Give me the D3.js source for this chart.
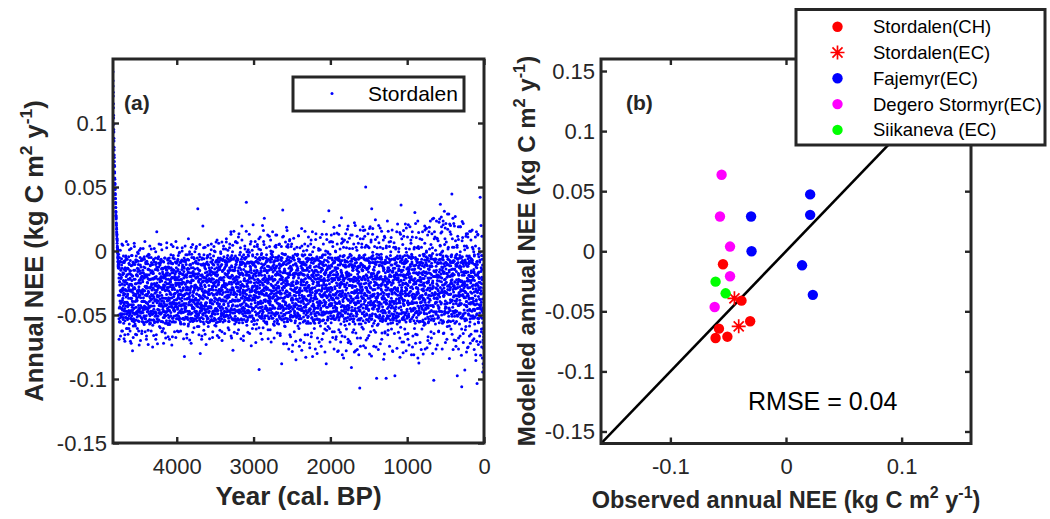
<!DOCTYPE html>
<html><head><meta charset="utf-8">
<script src="https://cdn.jsdelivr.net/npm/d3@7"></script>
<style>body{margin:0;background:#fff}svg{display:block}</style>
</head><body><svg id="c" width="1050" height="519"></svg>
<script>
// ---------------- DATA: panel (a) ----------------
// Spike at the start of the record, one value per year from 4830 cal. BP
const spikeStartYear = 4830;
const spikeValues = [0.140,0.133,0.129,0.124,0.121,0.115,0.112,0.106,0.104,0.099,
 0.095,0.093,0.088,0.086,0.081,0.079,0.075,0.073,0.070,0.067,
 0.066,0.062,0.061,0.057,0.056,0.053,0.052,0.049,0.048,0.045,
 0.044,0.041,0.041,0.038,0.037,0.034,0.034,0.031,0.030,0.028,
 0.027,0.025,0.026,0.022,0.021,0.020,0.017,0.018,0.015,0.014,
 0.012,0.013,0.010,0.009,0.006,0.008,0.004,0.003,0.001,0.002,
 -0.002,-0.001,-0.005,-0.004,-0.008,-0.006,-0.011,-0.009,-0.013,-0.012];
// Remaining annual record in two interleaved sets (even years from 4760, odd years from 4759),
// one value every 2 years, one 200-year block per string.
// Each value = coarse character (code 35 -> origin, step 0.002) + fine digit (step 0.0005), kg C m-2 y-1
const evenStartYear = 4760, oddStartYear = 4759, bodyStepYears = 2, blockYears = 200;
const codeBase = 35, codeOrigin = -0.117, codeStep = 0.002, fineStep = 0.0005;
const evenBlocks = [
"]ZXUBSWQ@KFYNA:HTDLRCVI^GPE>MJOXB[KSF9HUDQ<AWLNTGZIR_EM?CPYJHKB;VFOSDXLA]NGT=QEUCMI8WPJBRZFS6HKDY@NA",
"TGA`OJDWMQE?KXBPZHS;IRCNU[LFAYVD>MGQJ]EKBTOW9HLSCXNF<RIAZPGUD^JKEVBM@QYLHS=OCTFWAIN:GRJ[DPKXEU7MBQHZ",
"SOFBJVMA?WHRDZ]KPEIULCX6TNGQBY;FJOWAMSKDVHE[RPI<CNdUGBL@ZTQFMJXDA^OKHSEWI>PYNBRCGUL]JVF=MTAQKD9XHOSB",
"NYEQJAWG:RDKUBT_HPLISFZC<MXOVAJGRE?NQKYDHB[WLITP8FUMCXOZ]ASGEK@VJDRNHQLYBF;PTIWCOAG^SMXEKUZD>JRNHB[L",
"PWFKA=SHYCMREUI]OBXGJTDNQ?LVZA3HSEKGPWB[FYCOMR:JUDIXNALTbQGEVHZK9SPBMWCDOJ^RFNYIUAEL<XGTQKHSB@ZMPD]J",
"WEOAKYGR_NHDTQBVIlMFXCSJ?PZLAUG[E4NRKWDHOB;YITFMQCfSJAXP=ZGLEVRN]DKHUBQ9WMICYOFTJA[SL>GXEPNRDK@VZBHU",
"MYFSQ^BKWIGTO:ZEDLXRAU]PNCHV?J[SBQMK`FYEWLRG<ITADOZPH_UNXCJQK>VEYMS[BFRGAWa9LOTDIXUN^PHZCQEJ=KSYBM]V",
"XHPaCWNZEKTBR]LGYUAO=JSFV^DQIMZCXdKPH;WERNU[BG5OYLAIcTMSF?JVQDZH`XKE@PWBNR_GLYCUJO>TSbAIFZMEVK]QHX9D",
"SYBGe[OJWALTRD:NUXHFZQI^MKVCEPYBGpSAO]TLJWH<DRFZNXUKc[EQIMB_VPTGY8LSAHO]DXZJRfCNWE?KUQBIMTGaLZFSY=HP",
"AKWTO^DYRHLGZU]E-BQNIXSbCPJ;FVMAT[KWYDgHOR>ENZBQ`LhUSJGXCI@FPVYK]MARDTWNcOE9LZHQBJSU_FXG=IKaYPC[RMVA",
"ZFQHeWBSOJXNDU:KAYG]PITCV^RMELWbHZ?QBJYSFOXA[NKDU_GTR<ELVCIZM]P0WHYBQalSJFO[XEKUAN>DTZRG`ICYLVM8QPdH",
"TJBY]OEQS7HXRKaFMZACV;NDWGUI^PLQ5ZBTYEJOSbHRK=XFMCA[WGNV3DPIUQ_ZLJEOT?BYcRHSFK8XMD]NAWG:QVCPIe6LZUJT",
"ROH[YBVF9SKEQ`ZLAXNI4DWMGT]JPCUY<RBOHaSEQFZK[N7XLVIA^DMJW=TGCPYd2ROSHBUEK]ZFXQ?NAL6VJGbMTWYD[IPC;SRO",
"EZT]HNW8QBKYAG^XSLFR7MPIUDc[OJVCZ<EWBQhKTNYH=LRGA]XSO1PFDaMIUJW[C@ZBREkQGYN_VL9THOSKDAbXFPMZR>IJ]CWG",
"QBXe6RLYHDWNA]KTGZ;JOUFcSIM4VCYQ[PE>HXBgRDL^ZNW9AKTGjSUO<FJCMIY`VE2QRBZHaXLP?DWNAKT5G]SOUFJdYCR:MEIV",
"HSZNb8AQWDGXOJTK[.EYRLcMV<FUBIPZ^CQH4WSNAEfYOK=GXJDTR]M6LVBUIQ`ZH3SCFPW(NEYa;OKGBXJR_T?LDMVUgASe7HZQ",
"KOWDa[QJX7vEHS^BZNLCUG:RMbIYTFPA]WV5XKDeQO<HJ`ZSGmBRY?CLd[NEIWT8UFKQ]AMXGh=PSVODJ+ZYRc@BLHNF6KUE_TWI",
"SCYRf9XHNME[LZAO=VJBGW^QDKT3UPIFbXNE<RSYMCH+]JWLZAQgOTVD>KBGUE`YR6NIXPHZa[SFMJ?CLWeKQA4TDOVB_YGIN;RU",
"+XQFJ]YCTMGNeSW@BLZKDPR<HU^EIAVOc2[YJXGQnTFSNK9MWBL_ZCRHd:EUPIYA?DXOgKSQ]6WJMNBFTZaHV=LGRECY8[UPIOfW",
"AXMQ`GSE5ZNWHd[KC;RYJUO3BFT^VLlIQDZ8XPGaMESYK<BWRhHN]CUJ0FATOZVb9QLIGDYPX_SN=EKWcRBH4MJUZFQ[AOeTI7VC",
"SKGYf]XDP6ZWNbJQ;EURAHeLT[I9MVOgCYS<BZFXWdKN]P4QGJRDi+UL`ASYEbMZ?HTOXCVhI[KQ7JWNFaLSB=GYRDPjXUE_oZMA",
"HYiQCWdN5TO]ZBgXLAS<JUkVMEaRG8FDhY[PKWTQI?ZNfCSX]LBjOEU3VMHeRYgAK=QZTDWsPIb_FSN6XGLhJ:YCOUQA[iEMV9KZ",
"TBXEJ]+WNaZOGe7QSKDRUYI[;HCfLMVXP3A(PQgZKbNDW=TEJSYR_GO.OUCXLM?aHI4BZFQW]dNSV6KEPJGTY<XcRAD8ZMO`UHIQ",
"SLWdCY9KR]NEJ[UB5ZQFXH=GaOV2MTIeP:D(YWLAbSZ8KCNQ^GRF<XOqJH4EUfM>Z6VPB3I,AD0?L9<.8"
];
const evenFine = [
"3917460285720394816558290361740462871935813509274626904173584758201693904167582315863249076327950148",
"8042193576156823094749307861522716049385938461502706573829146201957438587342016931490682757295831604",
"5163708294928456107307183496256347925180182940635745901738628035692417247681503976140385923908257146",
"2739410568605187239484260937511385764920594720813606125394879370186245419832567068230479157504691283",
"4806357129317592840692641805375038612974741209635889573412602693785014132046978505817326496749250813",
"9358027416042963185728714590637146380592360591472851932768401740852369806214793549156830272386709154",
"6174293805853704691250938172649621574038047826139538069251477259430681138506947269471825304012738956",
"1825649370296318504776104928354380957216814936705265972038143068512479925174860307341965285486021397",
"7530916482418927536034560289178072643159291758063410483962755683127049039285471668753019429164732805",
"0297384516672051983418742609533906817425526394170897410253688015763294243869015745091286737382564019",
"8461025937503867421996173485202754901386438026917571258360940936417258684195270335927806411279453860",
"3704862951189625047364821375909053716824721954803625683901474307621985862407351951709843260945318762",
"9582170634346189502702476831595739024816802541396761937582042874960531140823679573506194824617502938",
"2016495873724803915653917642081685392047394685071208521674396719304582956728314041835270968330649271",
"6947531208037269814581564029374809135762257168940353240719861695847320703821654992463750183812940657",
"1358297640964710385225398714066290458317086431279579136405284721589063308675219451720938468405126379",
"5720946183281573049670642983513479615028918207356446058293170831467295625734098113985027469046187532",
"0684215397459186273038250471697152936084506371824919784026538240691375271935640864370295183506814927",
"7293058146810634792519475620830578219634682910437534517860299516023748406289715327854136905831670942",
"4135782609697402351830681594722815460397947263180502968571345781390246164072895383095742617523946180",
"8869201457132758496046019372855946082713218374605967503198243412865097058419736292316504787095423816",
"3572614098524198037691863452077610258439045709318218394276506024781593839510672447618329052108579643",
"6014387259295816473087035294161467920385439261507808267431955149038267327159684075802149639632870514",
"948713602537092586411256849370603147258987943051264518962037264078195379256143085"
];
const oddBlocks = [
"KDWR;GYAPNHT]EBXQLIFZ<OCVMJS^UAGRK?YDNWHPE9LXTBQ[CJFZ=MOSIVAGU_RHDKY>NBWLQETPX:JCM]FSZAHO@IVDRNY;GKB",
"XQBF]NLTAHO=DWJGZSEKYIC?RMUPB[VHKNA8LFTQGZDO^JWEXCRS<IBMYKPNLFAU@HQDZGTE`VOJCRXWKB;NIYSMAFPHQ>DUZLGE",
"ZIPA^CKVRGENS=BXOHLDWQF@JUMTYAKCG]ROBIPNDZX:EWSLHVQAMJ9TFCYKO[BUNGE>RIPLWDXH_SZCFJQ<AMKTVEGYB?ORNDIU",
"CHOY=LPWBETFRK]ASNDGXJV@ZQIMCUEY9BHLTOKPRDNW^GFASJM;XIUCQZEVOBKHY>LDRTFASP_NGWJQIXC<MUEZOBKLDVR[HTNA",
"UDMJ?XAKRFGPZHE]WOSBLNCY:QTIVDAJXK^FEGRMHWBS=ONZPCQULT@DAYIGKFE[VRJMXNSOB8HWPZQCDIG`ATUKLEYJ>FRNMVOH",
"NBTQ]EIXFKALOY?DGSWHVPCZ<JRMUB^EFKNAQIOTGXD;HLYWSPCJBM]RZAVEKOUF=NTGIQXHDL@SPYBJZRC_WAMKEONVG9TFQHIU",
"YCIG^QNWBREAMX<HSPLZKVTD]FOJUCBGYRI?NAQWSL`EHZDXMTJOCP;FKVGAUNRYB[IWQEHMDZ=LSTOXFAKJ^CGRPVBNUE@YIDLS",
"PGaXKDRWNCJZEU?LHBQSAYO]TMFVIKDRc<GXWPZBNHSJ^EAQULYOFK=IDTCWM_BGRXVPNSZKE;HAJQYDObLUFT@CIWRMGX]PNEVA",
"IWSB`HPYDLTKNF:ZCRAOQGEX^VMJUBHYdSLW?PDKANCRZ]FOGIXTJQ<BEVYMKUPaHDSLNWCG=OZFRXAJEBTIY_QMHVPDKU9SNCLO",
"VCNZ^AKRGXPEWTb?LJHYQOMFD]BUISZXKCA;GPENRLYWe`VTHOJBDQ@SIMFUNGZK[XAEYCTPHR>OWLDBSVaMJQFGIKXE]U8NCZOR",
"DSLJ]YFQNAKGWC?ORUEXBHZPc^IMTVNAEYS=LKGDQJRO_FXBWUIMC;HTPZSKEYGAQ[NRDLJVFXb9OWCBHUTMK?SZPIRGNDe]LYAQ",
"MBQZ`KWOGEUDHYSa<LRCFNTX]AJPIVOKBG8EZQWSYLCMR^DHFTNUAJ:XIPKBGSWO[EZVQLDRbHY=CMTJKAFN9UXSIOPEGW_VLQZD",
"TIXA]PHCKSBOWUd;NFRGEZJMQ?YLDVHSCX^KBANPOTRW7FGIUELQZJa<DMYCVNKS]HOBXRPFAGT>WEIJUDZL`QSCMKYRO5HNBXGF",
"GQPW]LACNIFZUHb@ERSXKTDMY;OJBVRAXG^LWPIQCNFE6SZUKHOJDVc=MYTBLGRA[QXNEWSIKP?HFZDUMBYO`JCRVGTENXa:LQAS",
"UPJDc>AXNRHZSG]9LWEQKBFY^OMCTIV6RQdAJZHPNXGL<ESWBUOK_FDYa3MTCRIQZ]HVPJGAEN;XWLSbDMUK?YFBORT`HZCe8QIW",
"SGNA]WKDZQRPc7HXELBYFJUO^TMIVCAQ=SKZgDNWGXH5LRP_EBYMICa:UTOFJKVS[QD@ZNWBERd6HLXAPGMY`OQCJTIUFb>KSZRD",
"ZCLHe]PWANKQ9OGDYTSJXFBU^MRIEV<ZNAfLWCQHGKPO_SB4YDTJXEc]RMIUFLAZ=NVHGSQYDaWKO8BPCRJT^EIXUML?HNg[ZFAQ",
"WHDQ]BYOKSNGZd;IXRCLFEPU`AVJTMH3KYb=SQDWBNOG^ZLIRXCFT<AMeJUPQYKE]HSDVGZB?RWaNOLIXTFJ6CUQMHAGDS_YRKEZ",
"MRXB^KGDSYJAE7PQZhNLVCTU]FOIWHBY:GSLd?RKQEMN`ZDXAPOJU4ITCbFGWHRS[LYK=NDZAQe]MVEBPXGJ9OTfICULRH^KSYAW",
"GNQS`RDYBJZXTa8HMLKEFPWC]OI=UVRGAJf;YQDNSBHK^EXZO2MTLWc]UFPCIQYD@AGVRJN6HKZbSEXOTWBL[FPM?QDUCY_eIARG",
"KFWTd]NYHSQPZB9GMAOCJUXEf^RLVIGSDK`YN:TZWBHQh[PCOMFXAR=JUeILZYSG]KD5VNEHOTb`QWBPRCMJ>XFgAULKZI^NSYDc",
"TWHf]QMKEAUBZSg=OJXNDLR^GPCeIYQKVF`WTM9HSAjNZ]BOXDCGRU?LfYKPEIMWd[QHTZJB<OSXVhFANKYD]PRgCUMIQL`EZ7WG",
"HRZC^NXDPYKWTb;SFLEJAOIVe]QMBUGZHS?XC`RNYKDPf8LWTOEJAQ]MBZ=IUVCSd^GHXKNR6FLaYQODZTWJ[@EPMBIGSCc<KUXR",
"YEOS]KWHDNQBGU;TMZFAXCJR^L5PVIODYW=HEKSbGNT@AQZUMRJCXF]8LBOHKWI>PSaYDEVGQ:Z<7NM?"
];
const oddFine = [
"5274018369813065792429683415707405923186185379640260194852373742160958958603271403615782494897213650",
"2615943807704982653135817024969126438075046825137958930147628230679154175439062869071258434372869510",
"8390651724168524709357029183462946370518731408269508571934624129756830657380421990384615273261549708",
"6047285193392671458081530694275781432906269084731594325187601875603942731498602505692371844208175369",
"1753940628620837195494125860370387624195456109387227951304867039862514384620795156204183798164759203",
"4928615307531740826917603928458253946170309518742663417520989582064713207683914578135206940439276851",
"7461052983059283741668342195073018756249927650413816053892745247196380895142063743906875122783914065",
"3106479825874326059142978510366581093274503271864979263458010814579362365908214714782369509265704318",
"9582730146241698507370391645281854276390672084193530875926144651308729519364708283260154970749382651",
"0839561274497012365825168473098275903461136425879095027168436138470925748139205630951647825627809143",
"6274198350315860249798413750264703926185259048176384160592371327864509096251387476502489313085791642",
"2495037618762084319503769524815189376240894361507240581273966721489305386729051491347058261506238479",
"8713264905106457983252380917649327648150465192038727893056410495187236693245107831078645297842603915",
"5061392784948731602537258046190614923857739205814618504673928206795413456312897029715403686318072495",
"3928507461635218407916079435288245069173508371269497612358404139680725287645130975940231860413897652",
"7180654293283971054660942817354571836902932654701804179632855862039471124579863036081259478951402367",
"1647389025507124693889265301742389157406645087329137984026159012685743753491608242613795080815243796",
"4309816572874509321621587643906901342857182765903454630817293674925108029647158395802134676132758940",
"9826473150351298604774031596281769540382403592687182470135966981372405513860724926908457133054197862",
"0571238649629804731548365719023017985264865932410721437605987305849216946210873517285934605984632071",
"6385921407143765829090623148755784093612241086753979561420830128375964367129485085490367214293751086",
"2754086931806931572435187296400926473185638215049740715983625693024718184736290572358091469410637528",
"8196743025483026951702578143697349052681361497825065824310792908165734947138650250632178941725940386",
"54328076199675142830138967025462105389470847295163395608471270243195868163752409"
];
const yearDomainA = [4830, 0];
const neeDomainA = [-0.15, 0.15];
const xTicksA = [4000, 3000, 2000, 1000, 0];
const xTickLabelsA = ["4000", "3000", "2000", "1000", "0"];
const yTicksA = [-0.15, -0.1, -0.05, 0, 0.05, 0.1];
const yTickLabelsA = ["-0.15", "-0.1", "-0.05", "0", "0.05", "0.1"];
const seriesNameA = "Stordalen";

// ---------------- DATA: panel (b) ----------------
const siteNames = ["Stordalen(CH)", "Stordalen(EC)", "Fajemyr(EC)", "Degero Stormyr(EC)", "Siikaneva (EC)"];
const obsStordalenCH = [-0.0545, -0.0385, -0.031, -0.058, -0.0609, -0.0507];
const modStordalenCH = [-0.0108, -0.0411, -0.0583, -0.0644, -0.0722, -0.0711];
const obsStordalenEC = [-0.0446, -0.0409];
const modStordalenEC = [-0.0392, -0.0625];
const obsFajemyr = [-0.0302, -0.0298, 0.0209, 0.0209, 0.0139, 0.0232];
const modFajemyr = [0.0289, 0.0, 0.0473, 0.0303, -0.0117, -0.0363];
const obsDegero = [-0.0557, -0.0571, -0.0484, -0.0484, -0.0617];
const modDegero = [0.0637, 0.0289, 0.0039, -0.0208, -0.0464];
const obsSiikaneva = [-0.0609, -0.0522];
const modSiikaneva = [-0.0253, -0.035];
const domainB = [-0.16, 0.16];
const xTicksB = [-0.1, 0, 0.1];
const xTickLabelsB = ["-0.1", "0", "0.1"];
const yTicksB = [-0.15, -0.1, -0.05, 0, 0.05, 0.1, 0.15];
const yTickLabelsB = ["-0.15", "-0.1", "-0.05", "0", "0.05", "0.1", "0.15"];
const rmseText = "RMSE = 0.04";

// ---------------- STYLE ----------------
const FONT = '"Liberation Sans", Arial, Helvetica, sans-serif';
const AX = "#262626";
const siteColors = ["#ff0000", "#ff0000", "#0000ff", "#ff00ff", "#00ff00"];
const siteMarkers = ["circle", "star", "circle", "circle", "circle"];

// ---------------- BUILD SERIES ----------------
const seriesA = [];
spikeValues.forEach((v, i) => seriesA.push({year: spikeStartYear - i, nee: v}));
function addBlocks(blocks, fines, startYear) {
  blocks.forEach((blk, k) => {
    const fine = fines[k] || "";
    for (let j = 0; j < blk.length; j++) {
      const yr = startYear - blockYears * k - bodyStepYears * j;
      if (yr < 0) continue;
      const f = j < fine.length ? +fine[j] : 0;
      seriesA.push({year: yr, nee: codeOrigin + (blk.charCodeAt(j) - codeBase) * codeStep + f * fineStep});
    }
  });
}
addBlocks(evenBlocks, evenFine, evenStartYear);
addBlocks(oddBlocks, oddFine, oddStartYear);
const siteObs = [obsStordalenCH, obsStordalenEC, obsFajemyr, obsDegero, obsSiikaneva];
const siteMod = [modStordalenCH, modStordalenEC, modFajemyr, modDegero, modSiikaneva];

const svg = d3.select("#c");
svg.append("rect").attr("width", 1050).attr("height", 519).attr("fill", "#fff");

function starPath(s) {
  const d = s * 0.72;
  return `M${-s},0L${s},0M0,${-s}L0,${s}M${-d},${-d}L${d},${d}M${-d},${d}L${d},${-d}`;
}
function drawMarker(g, type, color, cx, cy) {
  if (type === "star") {
    g.append("path").attr("d", starPath(7)).attr("transform", `translate(${cx},${cy})`)
      .attr("stroke", color).attr("stroke-width", 1.7).attr("fill", "none");
  } else {
    g.append("circle").attr("cx", cx).attr("cy", cy).attr("r", 5.2).attr("fill", color);
  }
}
function richText(g, x, y, parts, size, rotate, anchor) {
  const t = g.append("text").attr("font-family", FONT).attr("font-weight", "bold")
    .attr("font-size", size).attr("fill", AX).attr("text-anchor", anchor || "middle")
    .attr("transform", `translate(${x},${y})` + (rotate ? " rotate(-90)" : ""));
  let up = false;
  parts.forEach(p => {
    const ts = t.append("tspan").text(p.t);
    if (p.sup && !up) { ts.attr("dy", -size * 0.42).attr("font-size", size * 0.68); up = true; }
    else if (p.sup) { ts.attr("font-size", size * 0.68); }
    else if (up) { ts.attr("dy", size * 0.42); up = false; }
  });
  return t;
}
function styleAxis(sel, fs) {
  sel.select(".domain").remove();
  sel.selectAll(".tick line").attr("stroke", AX).attr("stroke-width", 2.4);
  sel.selectAll(".tick text").attr("font-family", FONT).attr("font-size", fs).attr("fill", AX);
}
function frame(g, x, y, box, xt, xl, yt, yl) {
  const fs = 22;
  g.append("g").attr("transform", `translate(0,${box.b})`)
    .call(d3.axisBottom(x).tickValues(xt).tickFormat((d, i) => xl[i]).tickSize(-6).tickPadding(15))
    .call(s => styleAxis(s, fs));
  g.append("g").attr("transform", `translate(0,${box.t})`)
    .call(d3.axisTop(x).tickValues(xt).tickFormat("").tickSize(-6))
    .call(s => styleAxis(s, fs));
  g.append("g").attr("transform", `translate(${box.l},0)`)
    .call(d3.axisLeft(y).tickValues(yt).tickFormat((d, i) => yl[i]).tickSize(-6).tickPadding(6))
    .call(s => styleAxis(s, fs));
  g.append("g").attr("transform", `translate(${box.r},0)`)
    .call(d3.axisRight(y).tickValues(yt).tickFormat("").tickSize(-6))
    .call(s => styleAxis(s, fs));
  g.append("rect").attr("x", box.l).attr("y", box.t).attr("width", box.r - box.l).attr("height", box.b - box.t)
    .attr("fill", "none").attr("stroke", AX).attr("stroke-width", 3);
}

// ---------------- PANEL (a) ----------------
const boxA = {l: 113, r: 484, t: 59, b: 443};
const xA = d3.scaleLinear().domain(yearDomainA).range([boxA.l, boxA.r]);
const yA = d3.scaleLinear().domain(neeDomainA).range([boxA.b, boxA.t]);
const gA = svg.append("g");
gA.append("clipPath").attr("id", "clipA").append("rect")
  .attr("x", boxA.l).attr("y", boxA.t).attr("width", boxA.r - boxA.l).attr("height", boxA.b - boxA.t);
gA.append("g").attr("clip-path", "url(#clipA)").selectAll("circle").data(seriesA).join("circle")
  .attr("cx", d => xA(d.year)).attr("cy", d => yA(d.nee)).attr("r", 1.5).attr("fill", "#0000ff");
frame(gA, xA, yA, boxA, xTicksA, xTickLabelsA, yTicksA, yTickLabelsA);
gA.append("text").attr("x", 124).attr("y", 110).attr("font-family", FONT).attr("font-weight", "bold")
  .attr("font-size", 21).attr("fill", AX).text("(a)");
// legend (a)
gA.append("rect").attr("x", 293).attr("y", 77).attr("width", 171).attr("height", 34)
  .attr("fill", "#fff").attr("stroke", AX).attr("stroke-width", 3);
gA.append("circle").attr("cx", 332).attr("cy", 93.5).attr("r", 1.5).attr("fill", "#0000ff");
gA.append("text").attr("x", 368).attr("y", 93.5).attr("dy", "0.35em").attr("font-family", FONT)
  .attr("font-size", 21).attr("fill", "#000").text(seriesNameA);
richText(gA, 298.5, 505, [{t: "Year (cal. BP)"}], 26, false);
richText(gA, 43, 251, [{t: "Annual NEE (kg C m"}, {t: "2", sup: true}, {t: " y"}, {t: "-1", sup: true}, {t: ")"}], 25.5, true);

// ---------------- PANEL (b) ----------------
const boxB = {l: 601, r: 971, t: 59, b: 443.5};
const xB = d3.scaleLinear().domain(domainB).range([boxB.l, boxB.r]);
const yB = d3.scaleLinear().domain(domainB).range([boxB.b, boxB.t]);
const gB = svg.append("g");
gB.append("clipPath").attr("id", "clipB").append("rect")
  .attr("x", boxB.l).attr("y", boxB.t).attr("width", boxB.r - boxB.l).attr("height", boxB.b - boxB.t);
const plotB = gB.append("g").attr("clip-path", "url(#clipB)");
plotB.append("line").attr("x1", xB(domainB[0])).attr("y1", yB(domainB[0]))
  .attr("x2", xB(domainB[1])).attr("y2", yB(domainB[1])).attr("stroke", "#000").attr("stroke-width", 2.6);
siteNames.forEach((name, s) => {
  siteObs[s].forEach((o, i) => drawMarker(plotB, siteMarkers[s], siteColors[s], xB(o), yB(siteMod[s][i])));
});
frame(gB, xB, yB, boxB, xTicksB, xTickLabelsB, yTicksB, yTickLabelsB);
gB.append("text").attr("x", 626).attr("y", 110).attr("font-family", FONT).attr("font-weight", "bold")
  .attr("font-size", 21).attr("fill", AX).text("(b)");
gB.append("text").attr("x", 748).attr("y", 410).attr("font-family", FONT)
  .attr("font-size", 25).attr("fill", "#000").text(rmseText);
richText(gB, 786, 508, [{t: "Observed annual NEE (kg C m"}, {t: "2", sup: true}, {t: " y"}, {t: "-1", sup: true}, {t: ")"}], 23.5, false);
richText(gB, 535, 251, [{t: "Modelled annual NEE (kg C m"}, {t: "2", sup: true}, {t: " y"}, {t: "-1", sup: true}, {t: ")"}], 24, true);
// legend (b)
const legB = gB.append("g");
legB.append("rect").attr("x", 796).attr("y", 9.5).attr("width", 249).attr("height", 135.5)
  .attr("fill", "#fff").attr("stroke", AX).attr("stroke-width", 3);
siteNames.forEach((name, s) => {
  const cy = 26.7 + s * 25.8;
  drawMarker(legB, siteMarkers[s], siteColors[s], 837.5, cy);
  legB.append("text").attr("x", 873).attr("y", cy).attr("dy", "0.35em").attr("font-family", FONT)
    .attr("font-size", 18.5).attr("fill", "#000").text(name);
});
</script></body></html>
